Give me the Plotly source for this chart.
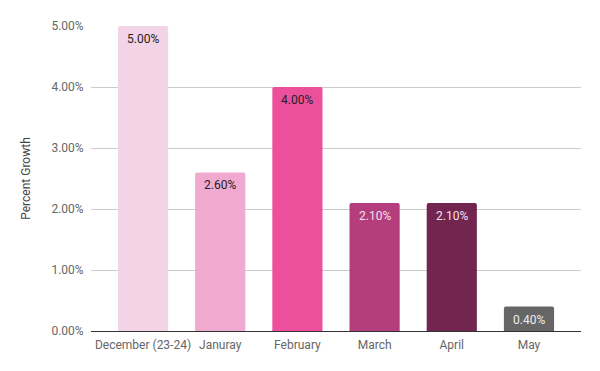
import plotly.graph_objects as go

categories = ["December (23-24)", "Januray", "February", "March", "April", "May"]
growth = [0.05, 0.026, 0.04, 0.021, 0.021, 0.004]
labels = ["5.00%", "2.60%", "4.00%", "2.10%", "2.10%", "0.40%"]
bar_colors = ["#f2d4e6", "#f0a9cf", "#ec4f9b", "#b43d7d", "#71254f", "#666666"]
text_colors = ["#222222", "#222222", "#222222", "#f5e1ec", "#f5e1ec", "#eeeeee"]

fig = go.Figure(go.Bar(
    x=categories, y=growth,
    marker=dict(color=bar_colors, line=dict(width=0)),
    width=0.65, hoverinfo="skip",
))

for cat, val, lab, col in zip(categories, growth, labels, text_colors):
    fig.add_annotation(
        x=cat, y=val, text=lab, showarrow=False,
        xanchor="center", yanchor="top", yshift=-4,
        font=dict(family="Roboto", size=12, color=col),
    )

fig.update_layout(
    width=600, height=371,
    margin=dict(l=91, r=19, t=26, b=40),
    paper_bgcolor="white", plot_bgcolor="white",
    font=dict(family="Roboto", size=12, color="#666666"),
    showlegend=False,
    barcornerradius=2,
)
fig.update_xaxes(
    range=[-0.674, 5.674], showgrid=False, automargin=False,
    showline=True, linecolor="#333333", linewidth=1,
    ticks="outside", ticklen=3, tickcolor="rgba(0,0,0,0)",
    tickfont=dict(size=12, color="#666666"),
)
fig.update_yaxes(
    range=[0, 0.05], dtick=0.01, tickformat=".2%", automargin=False,
    showgrid=True, gridcolor="#cccccc", gridwidth=1,
    zeroline=False, showline=False,
    ticks="outside", ticklen=4, tickcolor="rgba(0,0,0,0)",
    tickfont=dict(size=12, color="#666666"),
    title=dict(text="Percent Growth", font=dict(size=12, color="#444444"), standoff=18),
)

fig.write_html(
    "out.html",
    config={"displayModeBar": False},
    post_script="document.body.style.margin='0';document.body.style.overflow='hidden';",
)
